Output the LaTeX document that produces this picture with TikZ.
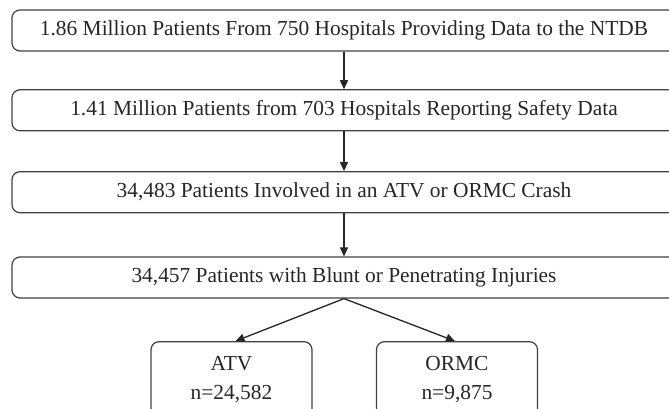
\documentclass[tikz,border=0pt]{standalone}
\usepackage{fontspec}
\setmainfont{Liberation Serif}
\usetikzlibrary{arrows.meta}
\begin{document}
\begin{tikzpicture}[x=1pt,y=1pt,
  box/.style={draw=black!75, line width=1.2pt, rounded corners=8pt, inner sep=0pt,
    font=\fontsize{21.4}{29}\selectfont, text=black!85, align=center},
  wide/.style={box, minimum width=664pt, minimum height=41pt},
  leaf/.style={box, minimum width=161pt, minimum height=76.6pt},
  arr/.style={draw=black!85, line width=1.3pt, -{Triangle[length=9pt,width=8pt]}}]
\useasboundingbox (0,0) rectangle (669,408);
\node[wide] (n1) at (344,377.5) {1.86 Million Patients From 750 Hospitals Providing Data to the NTDB};
\node[wide] (n2) at (344,297.7) {1.41 Million Patients from 703 Hospitals Reporting Safety Data};
\node[wide] (n3) at (344,215.8) {34,483 Patients Involved in an ATV or ORMC Crash};
\node[wide] (n4) at (344,130.5) {34,457 Patients with Blunt or Penetrating Injuries};
\node[leaf] (atv) at (231.5,28) {ATV\\n=24,582};
\node[leaf] (ormc) at (457,28) {ORMC\\n=9,875};
\draw[arr] (n1.south) -- (n2.north);
\draw[arr] (n2.south) -- (n3.north);
\draw[arr] (n3.south) -- (n4.north);
\draw[arr] (n4.south) -- ([xshift=4pt]atv.north);
\draw[arr] (n4.south) -- ([xshift=-2pt]ormc.north);
\end{tikzpicture}
\end{document}
